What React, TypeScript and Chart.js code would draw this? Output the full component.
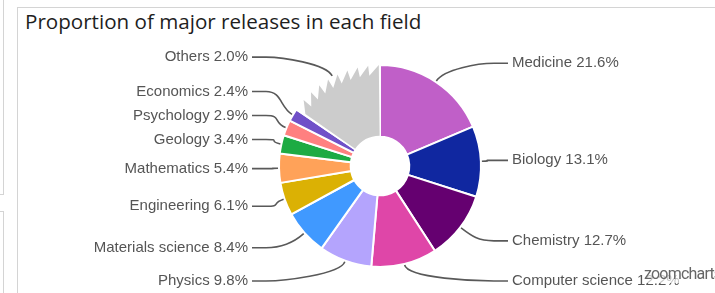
import React, { useEffect, useRef } from "react";
import { Chart, registerables } from "chart.js";

Chart.register(...registerables);

const chartTitle = "Proportion of major releases in each field";
const categories = [
  "Medicine",
  "Biology",
  "Chemistry",
  "Computer science",
  "Physics",
  "Materials science",
  "Engineering",
  "Mathematics",
  "Geology",
  "Psychology",
  "Economics",
  "Others",
];
const shares = [21.6, 13.1, 12.7, 12.2, 9.8, 8.4, 6.1, 5.4, 3.4, 2.9, 2.4, 2.0];
// the aggregated "Others" wedge is drawn wider than its own share in the picture
const othersArcWeight = 18;
const sliceColors = [
  "#c05fc8",
  "#1027a0",
  "#650070",
  "#df46a8",
  "#b4a4fd",
  "#4099ff",
  "#dbb104",
  "#ffa259",
  "#1dab43",
  "#ff8080",
  "#7050c8",
  "#cccccc",
];

const OTHERS = categories.indexOf("Others");

const jaggedOthers = {
  id: "jaggedOthers",
  afterDatasetsDraw(chart: any) {
    const arc: any = chart.getDatasetMeta(0).data[OTHERS];
    if (!arc) return;
    const { x, y, startAngle, endAngle, innerRadius, outerRadius } = arc.getProps(
      ["x", "y", "startAngle", "endAngle", "innerRadius", "outerRadius"],
      true
    );
    const ctx = chart.ctx;
    const gap = 1.2 / outerRadius;
    const s = startAngle + gap;
    const e = endAngle - gap;
    const n = 9;
    const step = (e - s) / n;
    const rHigh = outerRadius;
    const rLow = outerRadius * 0.9;
    const inner = innerRadius + 1;
    ctx.save();
    ctx.beginPath();
    ctx.moveTo(x + inner * Math.cos(s), y + inner * Math.sin(s));
    for (let k = 0; k < n; k++) {
      const a0 = s + k * step;
      const a1 = a0 + step;
      ctx.lineTo(x + rLow * Math.cos(a0), y + rLow * Math.sin(a0));
      ctx.lineTo(x + rHigh * Math.cos(a1), y + rHigh * Math.sin(a1));
    }
    ctx.lineTo(x + inner * Math.cos(e), y + inner * Math.sin(e));
    ctx.arc(x, y, inner, e, s, true);
    ctx.closePath();
    ctx.fillStyle = sliceColors[OTHERS];
    ctx.fill();
    ctx.restore();
  },
};

const leaderLabels = {
  id: "leaderLabels",
  afterDraw(chart: any) {
    const arcs: any[] = chart.getDatasetMeta(0).data;
    const ctx = chart.ctx;
    const items = arcs.map((arc, i) => {
      const { x, y, startAngle, endAngle, outerRadius } = arc.getProps(
        ["x", "y", "startAngle", "endAngle", "outerRadius"],
        true
      );
      const mid = (startAngle + endAngle) / 2;
      const right = Math.cos(mid) >= 0;
      const raw = y + outerRadius * 1.22 * Math.sin(mid);
      return {
        i,
        cx: x,
        cy: y,
        r: outerRadius,
        mid,
        right,
        ly: Math.min(raw, y + outerRadius + 14),
        lx: right ? x + outerRadius + 31 : x - outerRadius - 31,
      };
    });
    const minGap = 24;
    [true, false].forEach((side) => {
      const list = items.filter((it) => it.right === side).sort((a, b) => b.ly - a.ly);
      for (let k = 1; k < list.length; k++) {
        if (list[k].ly > list[k - 1].ly - minGap) list[k].ly = list[k - 1].ly - minGap;
      }
    });
    ctx.save();
    ctx.font = '15px "Liberation Sans", Arial, sans-serif';
    ctx.textBaseline = "middle";
    items.forEach((it) => {
      const ax = it.cx + (it.r + 1) * Math.cos(it.mid);
      const ay = it.cy + (it.r + 1) * Math.sin(it.mid);
      const dir = it.right ? 1 : -1;
      const ex = it.lx - dir * 4;
      const c1x = ax + 14 * Math.cos(it.mid);
      const c1y = ay + 14 * Math.sin(it.mid);
      const c2x = ex - dir * 30;
      ctx.beginPath();
      ctx.moveTo(ax, ay);
      ctx.bezierCurveTo(c1x, c1y, c2x, it.ly, ex - dir * 14, it.ly);
      ctx.lineTo(ex, it.ly);
      ctx.strokeStyle = "#595959";
      ctx.lineWidth = 1.6;
      ctx.stroke();
      ctx.fillStyle = "#555555";
      ctx.textAlign = it.right ? "left" : "right";
      ctx.fillText(`${categories[it.i]} ${shares[it.i].toFixed(1)}%`, it.lx, it.ly);
    });
    ctx.restore();
  },
};

export default function App() {
  const ref = useRef<HTMLCanvasElement | null>(null);

  useEffect(() => {
    document.body.style.margin = "0";
    if (!ref.current) return;
    const chart = new Chart(ref.current, {
      type: "doughnut",
      data: {
        labels: categories,
        datasets: [
          {
            data: shares.map((v, i) => (i === OTHERS ? othersArcWeight : v)),
            backgroundColor: sliceColors.map((c, i) => (i === OTHERS ? "rgba(0,0,0,0)" : c)),
            borderColor: "#ffffff",
            borderWidth: 2,
            hoverOffset: 0,
          },
        ],
      },
      options: {
        responsive: false,
        animation: false,
        cutout: "29%",
        layout: { padding: { left: 278, right: 233, top: 64, bottom: 25 } },
        plugins: {
          legend: { display: false },
          tooltip: { enabled: false },
        },
        events: [],
      },
      plugins: [jaggedOthers, leaderLabels],
    });
    return () => chart.destroy();
  }, []);

  return (
    <div
      style={{
        position: "relative",
        width: 715,
        height: 293,
        overflow: "hidden",
        background: "#ffffff",
      }}
    >
      <div
        style={{
          position: "absolute",
          left: -10,
          top: -10,
          width: 12,
          height: 203,
          border: "1px solid #d4d4d4",
        }}
      />
      <div
        style={{
          position: "absolute",
          left: -10,
          top: 211,
          width: 12,
          height: 200,
          border: "1px solid #d4d4d4",
        }}
      />
      <div
        style={{
          position: "absolute",
          left: 17,
          top: 7,
          width: 760,
          height: 400,
          border: "1px solid #d4d4d4",
        }}
      />
      <div
        style={{
          position: "absolute",
          left: 25,
          top: 7,
          fontFamily: "'Open Sans', sans-serif",
          fontSize: 20.6,
          color: "#1e1e1e",
          whiteSpace: "nowrap",
        }}
      >
        {chartTitle}
      </div>
      <canvas
        ref={ref}
        width={715}
        height={293}
        style={{ position: "absolute", left: 0, top: 0, width: 715, height: 293 }}
      />
      <div
        style={{
          position: "absolute",
          left: 644,
          top: 264,
          fontFamily: "Roboto, sans-serif",
          fontSize: 16,
          color: "#666666",
          background: "rgba(255,255,255,0.65)",
          whiteSpace: "nowrap",
          letterSpacing: -0.8,
        }}
      >
        zoomcharts
      </div>
    </div>
  );
}
